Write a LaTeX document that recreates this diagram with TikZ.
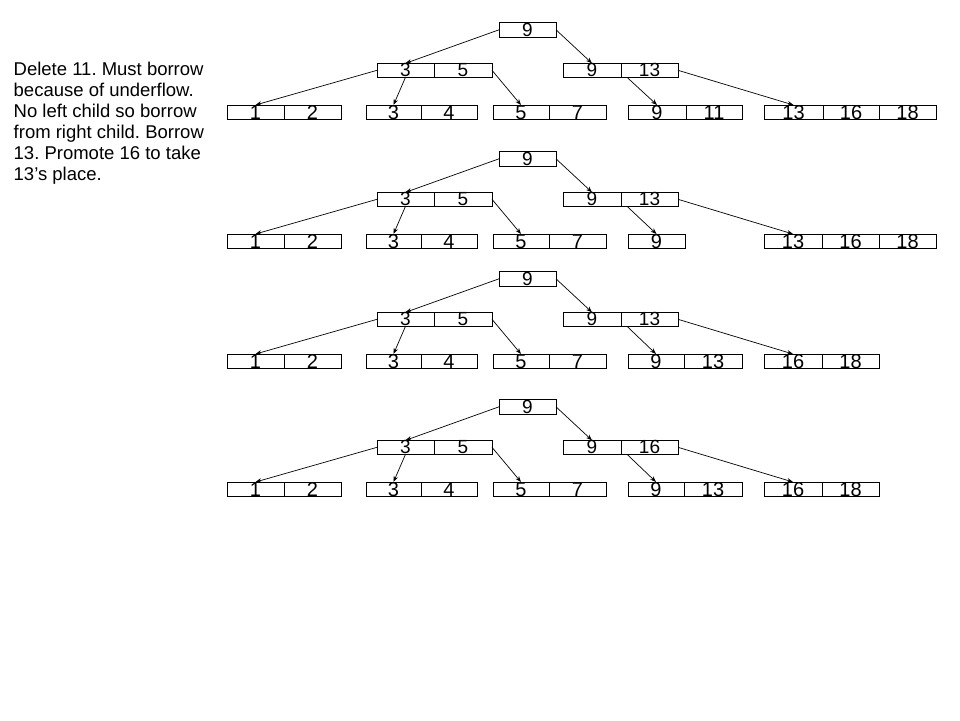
\documentclass[tikz,border=0pt]{standalone}
\usepackage{fontspec}
\setmainfont{Liberation Sans}
\frenchspacing
\usetikzlibrary{arrows.meta}
\tikzset{
  cellbox/.style={draw, line width=0.8pt, inner sep=0pt, outer sep=0pt, anchor=north west},
  innum/.style={font=\fontsize{19}{21}\selectfont, anchor=base, inner sep=0pt, yshift=0.5pt},
  leafnum/.style={font=\fontsize{20}{22}\selectfont, anchor=base, inner sep=0pt, yshift=0pt},
  arr/.style={-{Stealth[length=6pt,width=4.5pt]}, line width=0.7pt},
}
% name, x1, x2, ytop, ybot, text, text style
\newcommand\bcell[7]{%
  \node[cellbox, minimum width={#3-#2}, minimum height={#5-#4}] (#1) at (#2,{#4+\tdy}) {};
  \node[#7] (#1-t) at (#1.south) {#6};
}
% common part of each tree: prefix, text of right inner cell
\newcommand\treetop[2]{%
  \bcell{#1r}{499}{556}{22.3}{37.3}{9}{innum}
  \bcell{#1l1}{377}{434}{63.3}{77.3}{3}{innum}
  \bcell{#1l2}{434}{492}{63.3}{77.3}{5}{innum}
  \bcell{#1m1}{563}{621}{63.3}{77.3}{9}{innum}
  \bcell{#1m2}{621}{678}{63.3}{77.3}{#2}{innum}
  \bcell{#1p1}{227}{284}{105}{119.3}{1}{leafnum}
  \bcell{#1p2}{284}{341}{105}{119.3}{2}{leafnum}
  \bcell{#1q1}{366}{421}{105}{119.3}{3}{leafnum}
  \bcell{#1q2}{421}{477}{105}{119.3}{4}{leafnum}
  \bcell{#1s1}{493}{549}{105}{119.3}{5}{leafnum}
  \bcell{#1s2}{549}{606}{105}{119.3}{7}{leafnum}
  \draw[arr] (#1r.west) -- (#1l1.north);
  \draw[arr] (#1r.east) -- (#1m1.north);
  \draw[arr] (#1l1.west) -- (#1p1.north);
  \draw[arr] (#1l1.south) -- (#1q1.north);
  \draw[arr] (#1l2.east) -- (#1s1.north);
}
\begin{document}
\begin{tikzpicture}[x=1pt, y=-1pt]
\useasboundingbox (0,0) rectangle (960,720);
\node[anchor=north west, align=left, inner sep=0pt, font=\fontsize{18.5}{21}\selectfont] (desc) at (13.5,61.8)
  {Delete 11. Must borrow\\because of underflow.\\No left child so borrow\\from right child. Borrow\\13. Promote 16 to take\\13’s place.};

% tree 1
\def\tdy{0}
\treetop{a}{13}
\bcell{au1}{628}{686}{105}{119.3}{9}{leafnum}
\bcell{au2}{686}{742}{105}{119.3}{11}{leafnum}
\bcell{av1}{764}{823}{105}{119.3}{13}{leafnum}
\bcell{av2}{823}{879}{105}{119.3}{16}{leafnum}
\bcell{av3}{879}{936}{105}{119.3}{18}{leafnum}
\draw[arr] ([xshift=6pt]am2.south west) -- (au1.north);
\draw[arr] (am2.east) -- (av1.north);

% tree 2
\def\tdy{129}
\treetop{b}{13}
\bcell{bu1}{628}{685}{105}{119.3}{9}{leafnum}
\bcell{bv1}{764}{822}{105}{119.3}{13}{leafnum}
\bcell{bv2}{822}{879}{105}{119.3}{16}{leafnum}
\bcell{bv3}{879}{936}{105}{119.3}{18}{leafnum}
\draw[arr] ([xshift=6pt]bm2.south west) -- (bu1.north);
\draw[arr] (bm2.east) -- (bv1.north);

% tree 3
\def\tdy{249}
\treetop{c}{13}
\bcell{cu1}{628}{684}{105}{119.3}{9}{leafnum}
\bcell{cu2}{684}{742}{105}{119.3}{13}{leafnum}
\bcell{cv1}{764}{822}{105}{119.3}{16}{leafnum}
\bcell{cv2}{822}{879}{105}{119.3}{18}{leafnum}
\draw[arr] ([xshift=6pt]cm2.south west) -- (cu1.north);
\draw[arr] (cm2.east) -- (cv1.north);

% tree 4
\def\tdy{377}
\treetop{d}{16}
\bcell{du1}{628}{684}{105}{119.3}{9}{leafnum}
\bcell{du2}{684}{742}{105}{119.3}{13}{leafnum}
\bcell{dv1}{764}{822}{105}{119.3}{16}{leafnum}
\bcell{dv2}{822}{879}{105}{119.3}{18}{leafnum}
\draw[arr] ([xshift=6pt]dm2.south west) -- (du1.north);
\draw[arr] (dm2.east) -- (dv1.north);
\end{tikzpicture}
\end{document}
